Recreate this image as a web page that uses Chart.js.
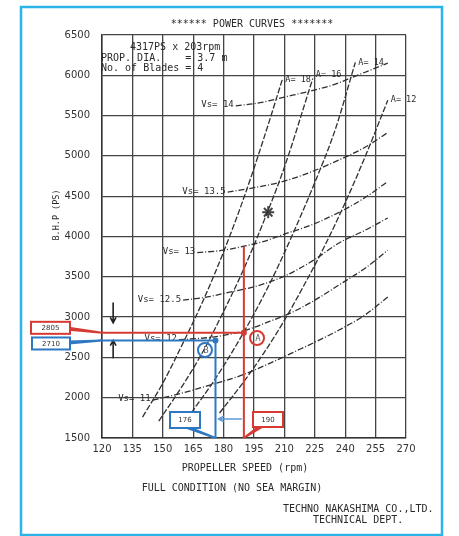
<!DOCTYPE html>
<html>
<head>
<meta charset="utf-8">
<script src="https://cdn.jsdelivr.net/npm/chart.js@4.4.1/dist/chart.umd.min.js"></script>
<style>
  html, body { margin: 0; padding: 0; background: #fff; }
  #wrap { position: relative; width: 459px; height: 536px; }
</style>
</head>
<body>
<div id="wrap"><canvas id="c"></canvas></div>
<script>
// axis ticks
const rpmTicks = [120, 135, 150, 165, 180, 195, 210, 225, 240, 255, 270];
const bhpTicks = [1500, 2000, 2500, 3000, 3500, 4000, 4500, 5000, 5500, 6000, 6500];

// propeller curves [rpm, PS]
const curveA18 = [[140, 1760], [150, 2180], [160, 2680], [170, 3210], [180, 3810], [190, 4480], [200, 5230], [209, 5950]];
const curveA16 = [[148, 1710], [160, 2160], [170, 2580], [180, 3070], [190, 3600], [200, 4200], [210, 4860], [224, 5960]];
const curveA14 = [[164, 1810], [175, 2200], [185, 2600], [195, 3040], [205, 3530], [215, 4080], [225, 4670], [235, 5320], [245, 6160]];
const curveA12 = [[178, 1810], [190, 2200], [200, 2560], [210, 2960], [220, 3410], [230, 3890], [240, 4420], [250, 5000], [261, 5690]];
const propCurves = [curveA18, curveA16, curveA14, curveA12];
const propNames = ["A= 18", "A= 16", "A= 14", "A= 12"];

// ship speed curves [rpm, PS]
const speed14 = [[186, 5620], [198, 5660], [210, 5730], [222, 5800], [234, 5880], [245, 5990], [261, 6150]];
const speed135 = [[182, 4550], [196, 4610], [209, 4680], [222, 4790], [237, 4950], [250, 5110], [261, 5290]];
const speed13 = [[167, 3800], [180, 3830], [190, 3880], [200, 3940], [210, 4030], [223, 4140], [237, 4300], [249, 4470], [261, 4680]];
const speed125 = [[160, 3210], [172, 3250], [183, 3310], [197, 3390], [211, 3520], [224, 3700], [237, 3920], [250, 4080], [261, 4230]];
const speed12 = [[158, 2720], [170, 2740], [177, 2760], [190, 2830], [203, 2950], [213, 3050], [225, 3210], [237, 3400], [250, 3610], [261, 3830]];
const speed11 = [[145, 1970], [160, 2060], [175, 2170], [188, 2270], [203, 2430], [215, 2570], [226, 2700], [237, 2840], [250, 3030], [261, 3250]];
const speedCurves = [speed14, speed135, speed13, speed125, speed12, speed11];
const speedNames = ["Vs= 14", "Vs= 13.5", "Vs= 13", "Vs= 12.5", "Vs= 12", "Vs= 11"];

// engine point and read-off points
const enginePoint = [202, 4300];
const pointA = [190, 2805];
const pointB = [176, 2710];
const circleA = [196.5, 2741];
const circleB = [170.8, 2592];

const MONO = '"DejaVu Sans Mono", monospace';
const RED = "#d63a33";
const BLUE = "#2e78c2";
const INK = "#2a2a2a";

const toXY = pts => pts.map(p => ({ x: p[0], y: p[1] }));

const datasets = [];
propCurves.forEach((c, i) => datasets.push({
  label: propNames[i], data: toXY(c), borderColor: "#303030", borderWidth: 1.3,
  borderDash: [6, 2], pointRadius: 0, cubicInterpolationMode: "monotone", fill: false
}));
speedCurves.forEach((c, i) => datasets.push({
  label: speedNames[i], data: toXY(c), borderColor: "#303030", borderWidth: 1.3,
  borderDash: [6, 2, 1, 2], pointRadius: 0, cubicInterpolationMode: "monotone", fill: false
}));
datasets.push({
  label: "engine", type: "scatter", data: toXY([enginePoint]),
  pointStyle: "star", pointRadius: 6, borderColor: "#444", borderWidth: 2, backgroundColor: "#444"
});

function box(ctx, x, y, w, h, color, text, tail) {
  ctx.save();
  ctx.strokeStyle = color;
  ctx.fillStyle = color;
  ctx.lineWidth = 2;
  // pointer
  ctx.beginPath();
  ctx.moveTo(tail[0][0], tail[0][1]);
  ctx.lineTo(tail[1][0], tail[1][1]);
  ctx.lineTo(tail[2][0], tail[2][1]);
  ctx.closePath();
  ctx.fill();
  ctx.stroke();
  ctx.fillStyle = "#fff";
  ctx.fillRect(x, y, w, h);
  ctx.strokeRect(x, y, w, h);
  ctx.fillStyle = "#333";
  ctx.font = "7px 'DejaVu Sans'";
  ctx.textAlign = "center";
  ctx.textBaseline = "middle";
  ctx.fillText(text, x + w / 2, y + h / 2 + 0.5);
  ctx.restore();
}

function arrow(ctx, x1, y1, x2, y2, color, width, head) {
  ctx.save();
  ctx.strokeStyle = color;
  ctx.lineWidth = width;
  ctx.beginPath();
  ctx.moveTo(x1, y1);
  ctx.lineTo(x2, y2);
  const a = Math.atan2(y2 - y1, x2 - x1);
  ctx.moveTo(x2 - head * Math.cos(a - 0.5), y2 - head * Math.sin(a - 0.5));
  ctx.lineTo(x2, y2);
  ctx.lineTo(x2 - head * Math.cos(a + 0.5), y2 - head * Math.sin(a + 0.5));
  ctx.stroke();
  ctx.restore();
}

const overlay = {
  id: "overlay",
  beforeDraw(chart) {
    const { ctx, width, height } = chart;
    ctx.save();
    ctx.fillStyle = "#fff";
    ctx.fillRect(0, 0, width, height);
    ctx.strokeStyle = "#2bb3ea";
    ctx.lineWidth = 2.5;
    ctx.strokeRect(21, 7, 421, 528);
    ctx.restore();
  },
  afterDatasetsDraw(chart) {
    const { ctx, chartArea } = chart;
    const px = v => chart.scales.x.getPixelForValue(v);
    const py = v => chart.scales.y.getPixelForValue(v);
    ctx.save();
    ctx.fillStyle = INK;
    ctx.textBaseline = "middle";

    // curve labels
    ctx.font = "9px " + MONO;
    ctx.textAlign = "right";
    speedCurves.forEach((c, i) => {
      ctx.fillText(speedNames[i], px(c[0][0]) - 2, py(c[0][1]) - 1);
    });
    ctx.textAlign = "left";
    ctx.font = "8.5px " + MONO;
    propCurves.forEach((c, i) => {
      const p = c[c.length - 1];
      ctx.fillText(propNames[i], px(p[0]) + 3, py(p[1]) - (i === 1 ? 4 : 0));
    });

    // header block inside plot
    ctx.font = "10px " + MONO;
    ctx.fillText("4317PS x 203rpm", 130, 47);
    ctx.fillText("PROP. DIA.    = 3.7 m", 101, 58);
    ctx.fillText("No. of Blades = 4", 101, 68);

    // title and footer
    ctx.textAlign = "center";
    ctx.fillText("****** POWER CURVES *******", 252, 24);
    ctx.fillText("PROPELLER SPEED (rpm)", 245, 468);
    ctx.fillText("FULL CONDITION (NO SEA MARGIN)", 232, 488);
    ctx.textAlign = "left";
    ctx.fillText("TECHNO NAKASHIMA CO.,LTD.", 283, 509);
    ctx.fillText("TECHNICAL DEPT.", 313, 520);

    // y axis title
    ctx.save();
    ctx.translate(57, 215);
    ctx.rotate(-Math.PI / 2);
    ctx.textAlign = "center";
    ctx.font = "8.5px " + MONO;
    ctx.fillText("B.H.P (PS)", 0, 0);
    ctx.restore();

    // black arrows
    const ax = px(125.5);
    arrow(ctx, ax, py(3180), ax, py(2930), "#222", 1.6, 6);
    arrow(ctx, ax, py(2490), ax, py(2710), "#222", 1.6, 6);

    // red read-off
    ctx.strokeStyle = RED;
    ctx.lineWidth = 2;
    ctx.beginPath();
    ctx.moveTo(chartArea.left, py(pointA[1]));
    ctx.lineTo(px(pointA[0]), py(pointA[1]));
    ctx.moveTo(px(pointA[0]), py(3870));
    ctx.lineTo(px(pointA[0]), chartArea.bottom);
    ctx.stroke();
    ctx.fillStyle = RED;
    ctx.beginPath();
    ctx.arc(px(pointA[0]), py(pointA[1]), 3, 0, Math.PI * 2);
    ctx.fill();

    // blue read-off
    ctx.strokeStyle = BLUE;
    ctx.beginPath();
    ctx.moveTo(chartArea.left, py(pointB[1]));
    ctx.lineTo(px(pointB[0]), py(pointB[1]));
    ctx.moveTo(px(pointB[0]), py(pointB[1]));
    ctx.lineTo(px(pointB[0]), chartArea.bottom);
    ctx.stroke();
    ctx.fillStyle = BLUE;
    ctx.beginPath();
    ctx.arc(px(pointB[0]), py(pointB[1]), 3, 0, Math.PI * 2);
    ctx.fill();

    // horizontal blue arrow from red line to blue line
    arrow(ctx, px(pointA[0]) - 2, py(1736), px(pointB[0]) + 3, py(1736), "#5a9bd8", 1.5, 6);

    // circled letters
    [[circleA, RED, "A"], [circleB, BLUE, "B"]].forEach(([c, col, t]) => {
      ctx.strokeStyle = col;
      ctx.lineWidth = 2;
      ctx.beginPath();
      ctx.arc(px(c[0]), py(c[1]), 7, 0, Math.PI * 2);
      ctx.stroke();
      ctx.fillStyle = "#666";
      ctx.font = "9px " + MONO;
      ctx.textAlign = "center";
      ctx.fillText(t, px(c[0]) + 1, py(c[1]) + 1);
    });

    // value boxes with thin pointers
    const yA = py(pointA[1]), yB = py(pointB[1]);
    box(ctx, 31, yA - 11, 39, 12, RED, String(pointA[1]),
      [[70, yA - 5], [70, yA - 3], [chartArea.left, yA]]);
    box(ctx, 32, yB - 3, 38, 12, BLUE, String(pointB[1]),
      [[70, yB + 1], [70, yB + 3], [chartArea.left, yB]]);
    box(ctx, 170, 412, 30, 16, BLUE, String(pointB[0]),
      [[187, 428], [191, 428], [px(pointB[0]), chartArea.bottom]]);
    box(ctx, 253, 412, 30, 15, RED, String(pointA[0]),
      [[258, 427], [262, 427], [px(pointA[0]), chartArea.bottom]]);

    ctx.restore();
  }
};

new Chart(document.getElementById("c"), {
  type: "line",
  data: { datasets },
  options: {
    responsive: true,
    maintainAspectRatio: false,
    animation: false,
    layout: { padding: { top: 35, right: 53, bottom: 0, left: 0 } },
    plugins: { legend: { display: false }, tooltip: { enabled: false } },
    scales: {
      x: {
        type: "linear", min: 120, max: 270,
        afterBuildTicks: s => { s.ticks = rpmTicks.map(v => ({ value: v })); },
        afterFit: s => { s.height = 98; },
        grid: { color: "#444", lineWidth: 1.3, drawTicks: false },
        border: { color: "#333", width: 1.5 },
        ticks: { padding: 5, maxRotation: 0, autoSkip: false, color: "#333",
          callback: v => String(v), font: { family: "DejaVu Sans", size: 10 } }
      },
      y: {
        type: "linear", min: 1500, max: 6500,
        afterBuildTicks: s => { s.ticks = bhpTicks.map(v => ({ value: v })); },
        afterFit: s => { s.width = 102; },
        grid: { color: "#444", lineWidth: 1.3, drawTicks: false },
        border: { color: "#333", width: 1.5 },
        ticks: { padding: 12, color: "#333",
          callback: v => String(v), font: { family: "DejaVu Sans", size: 10 } }
      }
    }
  },
  plugins: [overlay]
});
</script>
</body>
</html>
